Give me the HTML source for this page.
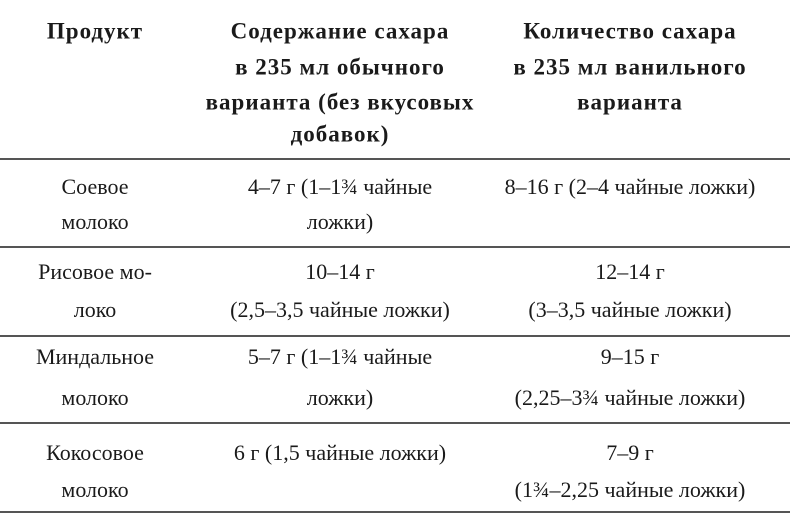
<!DOCTYPE html>
<html><head><meta charset="utf-8"><style>
body{margin:0;width:790px;height:514px;background:#fff;position:relative;overflow:hidden;font-family:"Liberation Serif",serif;color:#1a1a1a}
.t{position:absolute;white-space:nowrap;transform:translate(-50%,-50%);font-size:22px;line-height:1}
.b{font-weight:bold;font-size:23px;letter-spacing:1px}
.l{position:absolute;left:0;width:790px;height:2px;background:#555}
</style></head><body>
<div class="t b" style="left:95px;top:31px">Продукт</div>
<div class="t b" style="left:340px;top:31px">Содержание сахара</div>
<div class="t b" style="left:340px;top:67px">в 235 мл обычного</div>
<div class="t b" style="left:340px;top:102px">варианта (без вкусовых</div>
<div class="t b" style="left:340px;top:134px">добавок)</div>
<div class="t b" style="left:630px;top:31px">Количество сахара</div>
<div class="t b" style="left:630px;top:67px">в 235 мл ванильного</div>
<div class="t b" style="left:630px;top:102px">варианта</div>
<div class="l" style="top:158px"></div>
<div class="t" style="left:95px;top:187px">Соевое</div>
<div class="t" style="left:95px;top:222px">молоко</div>
<div class="t" style="left:340px;top:187px">4–7 г (1–1¾ чайные</div>
<div class="t" style="left:340px;top:222px">ложки)</div>
<div class="t" style="left:630px;top:187px">8–16 г (2–4 чайные ложки)</div>
<div class="l" style="top:246px"></div>
<div class="t" style="left:95px;top:272px">Рисовое мо-</div>
<div class="t" style="left:95px;top:310px">локо</div>
<div class="t" style="left:340px;top:272px">10–14 г</div>
<div class="t" style="left:340px;top:310px">(2,5–3,5 чайные ложки)</div>
<div class="t" style="left:630px;top:272px">12–14 г</div>
<div class="t" style="left:630px;top:310px">(3–3,5 чайные ложки)</div>
<div class="l" style="top:335px"></div>
<div class="t" style="left:95px;top:357px">Миндальное</div>
<div class="t" style="left:95px;top:398px">молоко</div>
<div class="t" style="left:340px;top:357px">5–7 г (1–1¾ чайные</div>
<div class="t" style="left:340px;top:398px">ложки)</div>
<div class="t" style="left:630px;top:357px">9–15 г</div>
<div class="t" style="left:630px;top:398px">(2,25–3¾ чайные ложки)</div>
<div class="l" style="top:422px"></div>
<div class="t" style="left:95px;top:453px">Кокосовое</div>
<div class="t" style="left:95px;top:490px">молоко</div>
<div class="t" style="left:340px;top:453px">6 г (1,5 чайные ложки)</div>
<div class="t" style="left:630px;top:453px">7–9 г</div>
<div class="t" style="left:630px;top:490px">(1¾–2,25 чайные ложки)</div>
<div class="l" style="top:511px"></div>
</body></html>
